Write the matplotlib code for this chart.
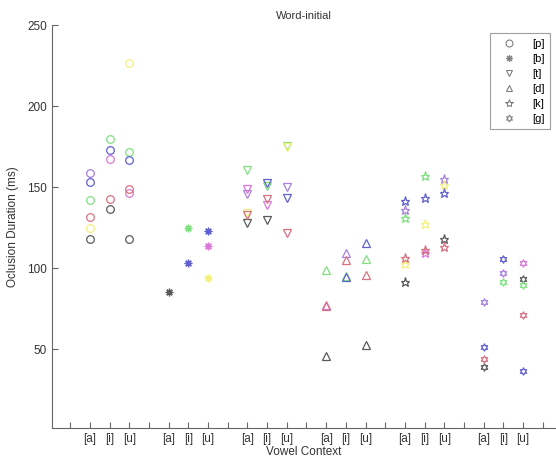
import numpy as np
import matplotlib.pyplot as plt

plt.rcParams['font.family'] = ['Liberation Sans', 'DejaVu Sans']

# --- data ---
consonants = ["[p]", "[b]", "[t]", "[d]", "[k]", "[g]"]
vowels = ["[a]", "[i]", "[u]"]
nan = np.nan

# one array per speaker, order: p-a p-i p-u | b-a b-i b-u | t | d | k | g
spk_gray    = [117.9, 136.4, 118.3,  85.5,   nan,   nan, 127.8, 129.8,   nan,  46.1,   nan,  52.5,  91.6,   nan, 117.9,  39.0,   nan,  93.1]
spk_violet  = [158.7,   nan,   nan,   nan,   nan,   nan, 146.0,   nan, 149.8,   nan, 109.2,   nan, 136.0,   nan, 155.0,  78.9,  96.8,   nan]
spk_magenta = [  nan, 167.6, 146.3,   nan,   nan, 113.7, 148.8, 139.1,   nan,  77.2,   nan,   nan,   nan, 109.5,   nan,   nan,   nan, 103.0]
spk_green   = [141.8, 180.0, 171.7,   nan, 124.7,   nan, 160.3, 150.9, 175.2,  98.9,  95.2, 105.5, 130.9, 157.0,   nan,   nan,  91.6,  89.4]
spk_yellow  = [125.1,   nan, 226.8,   nan,   nan,  94.1, 134.0,   nan, 174.6,   nan,   nan,   nan, 102.6, 127.2, 151.5,   nan,   nan,   nan]
spk_red     = [131.9, 142.6, 149.0,   nan,   nan,   nan, 133.0, 142.8, 121.6,  77.0, 105.1,  95.6, 106.5, 111.3, 113.3,  44.2,   nan,  71.0]
spk_blue    = [152.9, 173.1, 167.0,   nan, 103.0, 123.0,   nan, 152.5, 143.3,   nan,  94.5, 115.8, 141.2, 143.3, 146.3,  51.4, 105.5,  36.4]

speakers = [spk_gray, spk_violet, spk_magenta, spk_green, spk_yellow, spk_red, spk_blue]
colors = ["#5a5a5a", "#a880e0", "#d878d8", "#80e080", "#f4f080", "#d87080", "#6060d0"]
markers = ["o", (8, 2, 0), "v", "^", "*", (6, 1, 0)]

# x positions: groups of 3 with a gap tick between them
positions = []
for g in range(len(consonants)):
    positions += [g * 4 + 2, g * 4 + 3, g * 4 + 4]
positions = np.array(positions)

fig = plt.figure(figsize=(5.56, 4.59), dpi=100)
ax = fig.add_axes([52 / 556, 31 / 459, 504 / 556, 403 / 459])

for vals, col in zip(speakers, colors):
    vals = np.array(vals)
    for g, mk in enumerate(markers):
        sl = slice(g * 3, g * 3 + 3)
        filled = mk == (8, 2, 0)
        ax.plot(positions[sl], vals[sl], linestyle="none", marker=mk,
                markersize=5.5 if mk != "*" else 6.5,
                markeredgecolor=col, markerfacecolor=col if filled else "none",
                markeredgewidth=0.9)

# legend handles
handles = []
for c, mk in zip(consonants, markers):
    h, = ax.plot([], [], linestyle="none", marker=mk, markersize=5 if mk != "*" else 6,
                 markeredgecolor="#808080",
                 markerfacecolor="#808080" if mk == (8, 2, 0) else "none",
                 markeredgewidth=0.8, label=c)
    handles.append(h)
leg = ax.legend(handles=handles, loc="upper right", bbox_to_anchor=(550 / 556, 1 - 33 / 459),
                bbox_transform=fig.transFigure, borderaxespad=0, fontsize=8,
                fancybox=False, edgecolor="#888888", handletextpad=0.9,
                labelspacing=0.45, borderpad=0.5, handlelength=2.4)
leg.get_frame().set_linewidth(0.8)

xticks = np.arange(1, 26)
xlabels = []
for t in xticks:
    xlabels.append(vowels[(t - 2) % 4] if (t - 1) % 4 != 0 else "")
ax.set_xticks(xticks)
ax.set_xticklabels(xlabels)
ax.set_xlim(0.08, 25.67)
ax.set_ylim(1.5, 250)
ax.set_yticks([50, 100, 150, 200, 250])

for s in ["top", "right"]:
    ax.spines[s].set_visible(False)
for s in ["left", "bottom"]:
    ax.spines[s].set_color("#666666")
    ax.spines[s].set_linewidth(0.8)
ax.tick_params(direction="in", length=4, width=0.8, color="#666666", labelsize=8.5, labelcolor="#333333")

ax.set_title("Word-initial", fontsize=8, color="#333333", pad=4)
ax.set_xlabel("Vowel Context", fontsize=8.5, color="#333333", labelpad=1)
ax.set_ylabel("Oclusion Duration (ms)", fontsize=8.5, color="#333333", labelpad=6)

fig.savefig("out.png", dpi=100)
